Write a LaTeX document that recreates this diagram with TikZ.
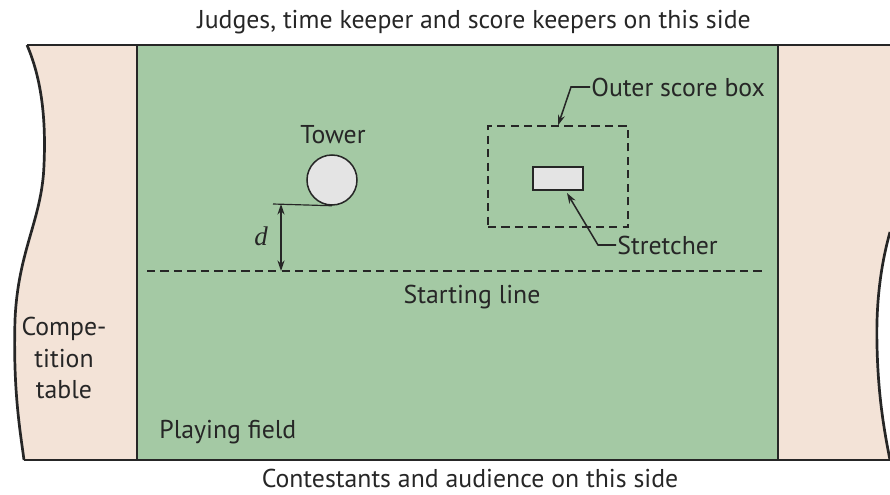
\documentclass[tikz,border=0pt]{standalone}
\usepackage{fontspec}
\setmainfont{PT Sans}
\newfontfamily\mathlike{Liberation Serif}
\usetikzlibrary{arrows.meta}

\begin{document}
\begin{tikzpicture}[x=0.03cm, y=-0.03cm,
    font=\fontsize{22}{26}\selectfont,
    border/.style={line width=2.3pt, black!85},
    thinline/.style={line width=1pt, black!85},
    dashline/.style={line width=1pt, black!85, dash pattern=on 7pt off 4.5pt},
    pointer/.style={line width=1.3pt, black!85, -{Stealth[length=9pt, width=6pt]}},
    label/.style={inner sep=1pt, text=black!85}]
    % Define colors
    \definecolor{fieldgreen}{RGB}{164, 201, 164}
    \definecolor{tabletan}{RGB}{243, 227, 215}
    \definecolor{towergray}{RGB}{228, 228, 228}

    \def\fieldleft{137}
    \def\fieldright{778}
    \def\fieldtop{45}
    \def\fieldbottom{460}

    \useasboundingbox (0,0) rectangle (890,494);

    % Color the field and the side tables
    \fill[fieldgreen] (\fieldleft,\fieldtop) rectangle (\fieldright,\fieldbottom);
    \fill[tabletan] (27,\fieldtop) .. controls (42,80) and (46,120) .. (44,165)
        .. controls (42,220) and (18,250) .. (15,320)
        .. controls (13,390) and (20,430) .. (24,\fieldbottom)
        -- (\fieldleft,\fieldbottom) -- (\fieldleft,\fieldtop) -- cycle;
    \fill[tabletan] (\fieldright,\fieldtop) -- (890,\fieldtop) -- (890,232)
        .. controls (880,268) and (876,305) .. (877,345)
        .. controls (878,395) and (884,430) .. (890,\fieldbottom)
        -- (\fieldright,\fieldbottom) -- cycle;

    % Draw the outer boundary
    \draw[border] (27,\fieldtop) -- (890,\fieldtop);
    \draw[border] (24,\fieldbottom) -- (890,\fieldbottom);
    \draw[border] (\fieldleft,\fieldtop) -- (\fieldleft,\fieldbottom);
    \draw[border] (\fieldright,\fieldtop) -- (\fieldright,\fieldbottom);
    \draw[border] (27,\fieldtop) .. controls (42,80) and (46,120) .. (44,165)
        .. controls (42,220) and (18,250) .. (15,320)
        .. controls (13,390) and (20,430) .. (24,\fieldbottom);
    \draw[border] (890,232) .. controls (880,268) and (876,305) .. (877,345)
        .. controls (878,395) and (884,430) .. (890,\fieldbottom);

    % Side labels
    \node[label] (judges) at (474,22) {Judges, time keeper and score keepers on this side};
    \node[label] (contestants) at (470,478) {Contestants and audience on this side};
    \node[label, align=center, font=\fontsize{22}{27}\selectfont] (comptable) at (64,358) {Compe-\\tition\\table};
    \node[label, anchor=west] (field) at (158,432) {Playing field};

    % Starting line
    \coordinate (startL) at (147,271);
    \coordinate (startR) at (762,271);
    \draw[dashline] (startL) -- (startR);
    \node[label] (startlabel) at (472,297) {Starting line};

    % Tower and its distance to the starting line
    \node[circle, draw=black!85, line width=1.3pt, fill=towergray, inner sep=0pt, minimum size=1.5cm] (tower) at (332,180) {};
    \node[label] (towerlabel) at (333,135) {Tower};
    \coordinate (dtop) at (281,204);
    \coordinate (dbot) at (281,271);
    \draw[thinline] (273,204) -- (tower.south);
    \draw[line width=1.3pt, black!85, {Stealth[length=9pt, width=6pt]}-{Stealth[length=9pt, width=6pt]}] (dtop) -- (dbot);
    \node[label, font=\fontsize{23}{26}\mathlike\itshape] (dlabel) at (261,236) {d};

    % Outer score box and stretcher
    \node[draw=black!85, dashline, minimum width=4.2cm, minimum height=3.03cm, inner sep=0pt] (scorebox) at (558,176.5) {};
    \node[draw=black!85, line width=1.6pt, fill=towergray, minimum width=1.5cm, minimum height=0.69cm, inner sep=0pt] (stretcher) at (558,178.5) {};

    \node[label, anchor=west] (scorelabel) at (590,87) {Outer score box};
    \node[label, anchor=west] (stretchlabel) at (616,245) {Stretcher};
    \coordinate (scorebend) at (571,87);
    \coordinate (stretchbend) at (598,245);
    \draw[pointer] (scorelabel.west) -- (scorebend) -- (scorebox.north);
    \draw[pointer] (stretchlabel.west) -- (stretchbend) -- (567,193);
\end{tikzpicture}
\end{document}
